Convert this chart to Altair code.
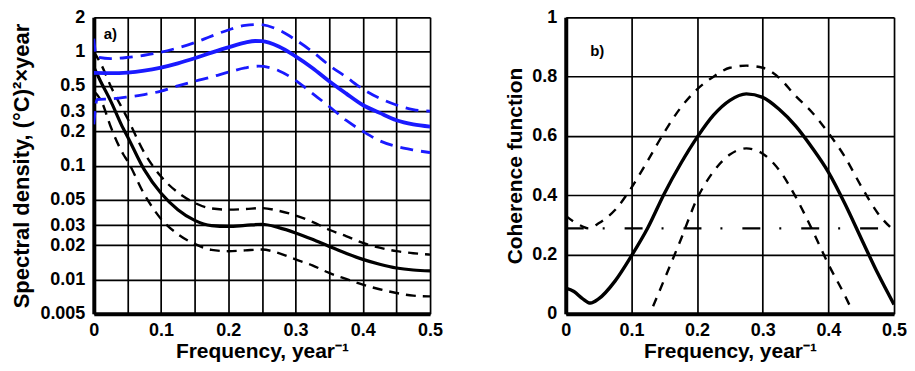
import altair as alt
import pandas as pd

# ---------------- Panel a) spectral densities ----------------
A_BLUE_F = [0, 0.025, 0.05, 0.075, 0.1, 0.125, 0.15, 0.175, 0.2, 0.225, 0.24, 0.25,
            0.275, 0.3, 0.325, 0.35, 0.375, 0.4, 0.425, 0.45, 0.475, 0.5]
A_BLUE = [0.65, 0.648, 0.655, 0.68, 0.725, 0.79, 0.875, 0.98, 1.09, 1.2, 1.24, 1.235,
          1.11, 0.91, 0.72, 0.55, 0.43, 0.34, 0.29, 0.25, 0.23, 0.22]

A_BLUE_UP_F = [0, 0.004, 0.025, 0.05, 0.075, 0.1, 0.125, 0.15, 0.175, 0.2, 0.225, 0.245,
               0.275, 0.3, 0.325, 0.35, 0.375, 0.4, 0.425, 0.45, 0.475, 0.5]
A_BLUE_UP = [1.3, 0.9, 0.87, 0.89, 0.93, 0.99, 1.08, 1.2, 1.37, 1.55, 1.7, 1.73,
             1.55, 1.27, 1.0, 0.76, 0.6, 0.47, 0.39, 0.34, 0.31, 0.3]

A_BLUE_LO_F = [0, 0.005, 0.025, 0.05, 0.075, 0.1, 0.125, 0.15, 0.175, 0.2, 0.225, 0.245,
               0.275, 0.3, 0.325, 0.35, 0.375, 0.4, 0.425, 0.45, 0.475, 0.5]
A_BLUE_LO = [0.23, 0.38, 0.385, 0.4, 0.42, 0.45, 0.5, 0.55, 0.6, 0.66, 0.72, 0.745,
             0.68, 0.56, 0.43, 0.33, 0.25, 0.2, 0.165, 0.147, 0.137, 0.13]

A_BLACK_F = [0, 0.01, 0.025, 0.044, 0.05, 0.075, 0.1, 0.125, 0.15, 0.175, 0.2, 0.225,
             0.25, 0.275, 0.3, 0.325, 0.35, 0.375, 0.4, 0.425, 0.45, 0.475, 0.5]
A_BLACK = [0.73, 0.55, 0.37, 0.21, 0.18, 0.092, 0.057, 0.041, 0.033, 0.0297, 0.0292, 0.0298,
           0.0305, 0.0285, 0.0256, 0.0225, 0.0195, 0.017, 0.015, 0.0136, 0.0126, 0.0121, 0.0119]

A_BLACK_UP_F = [0, 0.012, 0.025, 0.05, 0.075, 0.1, 0.125, 0.15, 0.175, 0.2, 0.225, 0.25,
                0.275, 0.3, 0.325, 0.35, 0.375, 0.4, 0.425, 0.45, 0.475, 0.5]
A_BLACK_UP = [1.0, 0.75, 0.5, 0.26, 0.13, 0.08, 0.058, 0.047, 0.042, 0.041, 0.0415, 0.0423,
              0.040, 0.0365, 0.032, 0.0273, 0.024, 0.0209, 0.019, 0.0177, 0.017, 0.0165]

A_BLACK_LO_F = [0, 0.012, 0.025, 0.044, 0.05, 0.075, 0.1, 0.125, 0.15, 0.175, 0.2, 0.225,
                0.25, 0.275, 0.3, 0.325, 0.35, 0.375, 0.4, 0.425, 0.45, 0.475, 0.5]
A_BLACK_LO = [0.45, 0.36, 0.22, 0.125, 0.11, 0.056, 0.034, 0.025, 0.0205, 0.0182, 0.0177, 0.018,
              0.0183, 0.017, 0.015, 0.0133, 0.0114, 0.0101, 0.009, 0.0082, 0.0076, 0.0072, 0.0071]

A_XTICKS = [0, 0.05, 0.1, 0.15, 0.2, 0.25, 0.3, 0.35, 0.4, 0.45, 0.5]
A_YTICKS = [0.005, 0.01, 0.02, 0.03, 0.05, 0.1, 0.2, 0.3, 0.5, 1, 2]
A_LABEL = ["a)"]
A_LABEL_F = [0.0245]
A_LABEL_V = [1.42]

# ---------------- Panel b) coherence ----------------
B_COH_F = [0, 0.0125, 0.025, 0.0375, 0.05, 0.075, 0.1, 0.125, 0.15, 0.175, 0.2, 0.225,
           0.25, 0.275, 0.3, 0.325, 0.35, 0.375, 0.4, 0.425, 0.45, 0.475, 0.5]
B_COH = [0.086, 0.075, 0.052, 0.036, 0.05, 0.11, 0.195, 0.29, 0.405, 0.506, 0.595, 0.67,
         0.72, 0.742, 0.73, 0.69, 0.634, 0.561, 0.478, 0.372, 0.254, 0.137, 0.031]

B_UP_F = [0, 0.0125, 0.025, 0.035, 0.05, 0.075, 0.1, 0.125, 0.15, 0.175, 0.2, 0.225,
          0.25, 0.275, 0.3, 0.325, 0.35, 0.375, 0.4, 0.425, 0.45, 0.475, 0.5]
B_UP = [0.33, 0.31, 0.295, 0.288, 0.305, 0.35, 0.425, 0.517, 0.612, 0.695, 0.757, 0.80,
        0.83, 0.837, 0.83, 0.796, 0.735, 0.68, 0.61, 0.53, 0.43, 0.34, 0.28]

B_LO_F = [0.133, 0.15, 0.175, 0.2, 0.225, 0.25, 0.275, 0.3, 0.325, 0.35, 0.375, 0.4, 0.425, 0.432]
B_LO = [0.025, 0.115, 0.249, 0.388, 0.48, 0.537, 0.558, 0.54, 0.485, 0.395, 0.285, 0.167, 0.062, 0.03]

B_THR_F = [0, 0.5]
B_THR = [0.288, 0.288]

B_XTICKS = [0, 0.1, 0.2, 0.3, 0.4, 0.5]
B_YTICKS = [0, 0.2, 0.4, 0.6, 0.8, 1]
B_LABEL = ["b)"]
B_LABEL_F = [0.048]
B_LABEL_V = [0.887]

FONT = "Liberation Sans"
BLUE = "#1a1aff"


def frame(name, f, v):
    return pd.DataFrame({"f": f, "v": v, "s": name})


df_a = pd.concat([
    frame("blue", A_BLUE_F, A_BLUE),
    frame("blue_up", A_BLUE_UP_F, A_BLUE_UP),
    frame("blue_lo", A_BLUE_LO_F, A_BLUE_LO),
    frame("black", A_BLACK_F, A_BLACK),
    frame("black_up", A_BLACK_UP_F, A_BLACK_UP),
    frame("black_lo", A_BLACK_LO_F, A_BLACK_LO),
], ignore_index=True)

df_b = pd.concat([
    frame("coh", B_COH_F, B_COH),
    frame("up", B_UP_F, B_UP),
    frame("lo", B_LO_F, B_LO),
    frame("thr", B_THR_F, B_THR),
], ignore_index=True)

x_title = "Frequency, year\u207b\u00b9"

XA = alt.X("f:Q", scale=alt.Scale(domain=[0, 0.5], nice=False, zero=False),
           axis=alt.Axis(values=A_XTICKS, title=x_title,
                         labelExpr="round(datum.value*20) % 2 == 0 ? format(datum.value, '.1~f') : ''"))
YA = alt.Y("v:Q", scale=alt.Scale(type="log", domain=[0.005, 2], nice=False),
           axis=alt.Axis(values=A_YTICKS, format="~g", titleFontSize=22,
                         title="Spectral density, (\u00b0C)\u00b2\u00d7year"))

base_a = alt.Chart(df_a).encode(x=XA, y=YA)


def lay(base, name, color, width, dash=None):
    kw = dict(color=color, strokeWidth=width, interpolate="monotone", clip=True)
    if dash:
        kw["strokeDash"] = dash
    return base.transform_filter(alt.datum.s == name).mark_line(**kw)


lab_a = alt.Chart(pd.DataFrame({"f": A_LABEL_F, "v": A_LABEL_V, "t": A_LABEL})).mark_text(
    font=FONT, fontWeight="bold", fontSize=15, color="black").encode(x=XA, y=YA, text="t:N")

panel_a = alt.layer(
    lay(base_a, "black_up", "black", 2.4, [10, 7]),
    lay(base_a, "black_lo", "black", 2.4, [10, 7]),
    lay(base_a, "black", "black", 3.2),
    lay(base_a, "blue_up", BLUE, 2.8, [13, 8]),
    lay(base_a, "blue_lo", BLUE, 2.8, [13, 8]),
    lay(base_a, "blue", BLUE, 3.8),
    lab_a,
).properties(width=337, height=297)

XB = alt.X("f:Q", scale=alt.Scale(domain=[0, 0.5], nice=False, zero=False),
           axis=alt.Axis(values=B_XTICKS, format=".1~f", title=x_title))
YB = alt.Y("v:Q", scale=alt.Scale(domain=[0, 1], nice=False),
           axis=alt.Axis(values=B_YTICKS, format="~g", title="Coherence function"))

base_b = alt.Chart(df_b).encode(x=XB, y=YB)

lab_b = alt.Chart(pd.DataFrame({"f": B_LABEL_F, "v": B_LABEL_V, "t": B_LABEL})).mark_text(
    font=FONT, fontWeight="bold", fontSize=15, color="black").encode(x=XB, y=YB, text="t:N")

panel_b = alt.layer(
    lay(base_b, "thr", "black", 2.4, [18, 19, 2, 20]),
    lay(base_b, "up", "black", 2.4, [9, 8]),
    lay(base_b, "lo", "black", 2.4, [9, 8]),
    lay(base_b, "coh", "black", 3.4),
    lab_b,
).properties(width=329, height=297)

chart = alt.hconcat(panel_a, panel_b, spacing=61).properties(
    padding={"left": 2, "top": 0, "right": 0, "bottom": 0}
).configure_view(strokeWidth=0).configure_axis(
    domainColor="black", domainWidth=4, gridColor="black", gridWidth=1.7, gridOpacity=1,
    ticks=False, labelFont=FONT, labelFontWeight="bold", labelFontSize=18, labelColor="black",
    labelPadding=9, titleFont=FONT, titleFontWeight="bold", titleFontSize=21, titleColor="black",
    titlePadding=6, labelFlush=False, labelOverlap=False,
).configure_axisX(labelPadding=8, titlePadding=1)

chart.save("out.html", embed_options={"renderer": "svg", "actions": False})
